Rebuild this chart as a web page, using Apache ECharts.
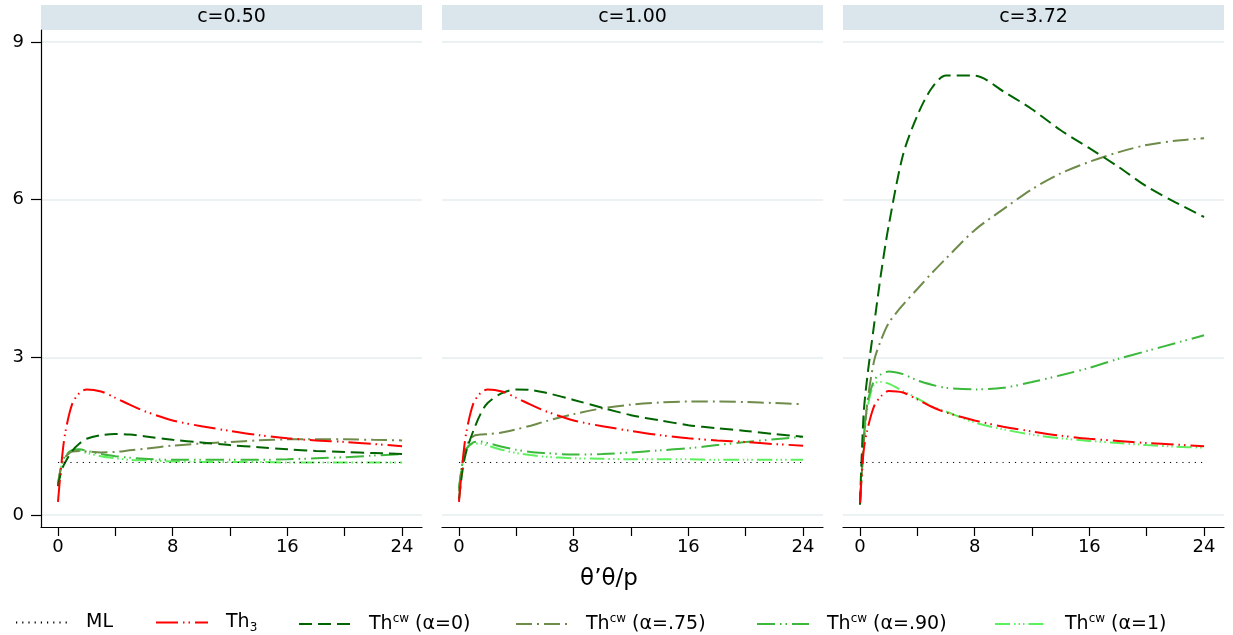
<!DOCTYPE html>
<html>
<head>
<meta charset="utf-8">
<script src="https://cdn.jsdelivr.net/npm/echarts@6/dist/echarts.min.js"></script>
<style>
  html, body { margin: 0; padding: 0; background: #fff; }
  #chart { width: 1233px; height: 635px; }
</style>
</head>
<body>
<div id="chart"></div>
<script>
  // sample points on the theta'theta/p axis
  const xs = [0, 0.25, 0.5, 1, 1.5, 2, 3, 4, 5, 6, 8, 10, 12, 14, 16, 18, 20, 22, 24];

  const panelLabels = ['c=0.50', 'c=1.00', 'c=3.72'];
  const seriesNames = ['ML', 'Th3', 'Thcw (α=0)', 'Thcw (α=.75)', 'Thcw (α=.90)', 'Thcw (α=1)'];
  const xTicks = [0, 4, 8, 12, 16, 20, 24];
  const xLabels = [0, 8, 16, 24];
  const yTicks = [0, 3, 6, 9];

  const ml = [1, 1, 1, 1, 1, 1, 1, 1, 1, 1, 1, 1, 1, 1, 1, 1, 1, 1, 1];

  // c = 0.50
  const p1Th3 = [0.25, 1.0, 1.55, 2.12, 2.32, 2.39, 2.35, 2.23, 2.10, 1.98, 1.80, 1.69, 1.60, 1.52, 1.46, 1.42, 1.39, 1.35, 1.31];
  const p1Cw0 = [0.55, 0.85, 1.0, 1.22, 1.36, 1.45, 1.52, 1.54, 1.53, 1.50, 1.43, 1.38, 1.33, 1.29, 1.25, 1.22, 1.20, 1.18, 1.16];
  const p1Cw75 = [0.6, 0.95, 1.1, 1.21, 1.22, 1.21, 1.19, 1.20, 1.23, 1.26, 1.32, 1.36, 1.39, 1.42, 1.44, 1.44, 1.44, 1.43, 1.42];
  const p1Cw90 = [0.55, 0.95, 1.12, 1.24, 1.25, 1.22, 1.16, 1.12, 1.09, 1.07, 1.05, 1.05, 1.05, 1.05, 1.06, 1.08, 1.10, 1.13, 1.16];
  const p1Cw1 = [0.55, 0.95, 1.12, 1.22, 1.22, 1.18, 1.12, 1.08, 1.05, 1.04, 1.02, 1.01, 1.01, 1.01, 1.0, 1.0, 1.0, 1.0, 1.0];

  // c = 1.00
  const p2Th3 = [0.25, 1.0, 1.55, 2.12, 2.32, 2.39, 2.35, 2.23, 2.10, 1.98, 1.80, 1.69, 1.60, 1.52, 1.46, 1.42, 1.39, 1.35, 1.32];
  const p2Cw0 = [0.3, 0.85, 1.2, 1.6, 1.92, 2.13, 2.32, 2.39, 2.38, 2.33, 2.19, 2.04, 1.90, 1.80, 1.71, 1.65, 1.60, 1.54, 1.49];
  const p2Cw75 = [0.45, 1.0, 1.3, 1.50, 1.53, 1.54, 1.57, 1.63, 1.70, 1.78, 1.92, 2.03, 2.10, 2.14, 2.16, 2.16, 2.15, 2.13, 2.11];
  const p2Cw90 = [0.5, 1.0, 1.25, 1.38, 1.40, 1.37, 1.30, 1.24, 1.20, 1.18, 1.15, 1.16, 1.19, 1.23, 1.27, 1.33, 1.39, 1.44, 1.49];
  const p2Cw1 = [0.5, 1.0, 1.25, 1.36, 1.36, 1.32, 1.24, 1.18, 1.14, 1.11, 1.08, 1.07, 1.06, 1.06, 1.06, 1.05, 1.05, 1.05, 1.05];

  // c = 3.72
  const p3Th3 = [0.23, 1.2, 1.6, 2.08, 2.27, 2.36, 2.33, 2.20, 2.06, 1.95, 1.80, 1.68, 1.59, 1.51, 1.45, 1.41, 1.37, 1.34, 1.31];
  const p3Cw0 = [0.2, 1.9, 2.6, 3.65, 4.65, 5.5, 6.85, 7.6, 8.12, 8.36, 8.36, 8.06, 7.72, 7.32, 6.98, 6.63, 6.25, 5.95, 5.67];
  const p3Cw75 = [0.2, 1.3, 2.1, 2.95, 3.35, 3.65, 4.0, 4.3, 4.6, 4.88, 5.42, 5.82, 6.2, 6.5, 6.72, 6.9, 7.04, 7.12, 7.17];
  const p3Cw90 = [0.2, 1.4, 2.1, 2.57, 2.68, 2.73, 2.68, 2.56, 2.48, 2.42, 2.39, 2.42, 2.53, 2.66, 2.8, 2.97, 3.12, 3.27, 3.42];
  const p3Cw1 = [0.2, 1.3, 2.0, 2.5, 2.53, 2.5, 2.36, 2.22, 2.07, 1.97, 1.76, 1.63, 1.53, 1.46, 1.41, 1.37, 1.33, 1.30, 1.28];

  const panels = [
    [ml, p1Th3, p1Cw0, p1Cw75, p1Cw90, p1Cw1],
    [ml, p2Th3, p2Cw0, p2Cw75, p2Cw90, p2Cw1],
    [ml, p3Th3, p3Cw0, p3Cw75, p3Cw90, p3Cw1]
  ];

  const lineLooks = [
    { color: '#000000', width: 1, type: [1.2, 5] },
    { color: '#ff0000', width: 2, type: [22, 5, 1.5, 4, 1.5, 5] },
    { color: '#006400', width: 2, type: [13, 6] },
    { color: '#6e8b4a', width: 2, type: [16, 5, 2, 5] },
    { color: '#3cb83c', width: 2, type: [18, 5, 1.5, 4, 1.5, 5] },
    { color: '#5cf05c', width: 2, type: [15, 4, 1.5, 3, 1.5, 3, 1.5, 4] }
  ];

  // left edge of each legend key, as in the picture
  const legendLefts = [10, 150, 293, 510, 751, 989];

  const font = "'DejaVu Sans', 'Liberation Sans', Arial, sans-serif";
  const panelLeft = 41, panelStep = 401, panelWidth = 381;

  let myChart = echarts.init(document.getElementById('chart'));

  let grids = [], xAxes = [], yAxes = [], series = [], graphics = [];
  panels.forEach(function (arrs, i) {
    let left = panelLeft + panelStep * i;
    grids.push({ left: left, top: 30, width: panelWidth, height: 497 });
    xAxes.push({
      gridIndex: i, type: 'value', min: -1.183, max: 25.39,
      axisLine: { show: true, onZero: false, lineStyle: { color: '#000', width: 1.2 } },
      axisTick: { show: true, customValues: xTicks, length: 9, lineStyle: { color: '#000', width: 1.2 } },
      axisLabel: { customValues: xLabels, fontSize: 18, color: '#000', margin: 11, fontFamily: font },
      splitLine: { show: false }
    });
    yAxes.push({
      gridIndex: i, type: 'value', min: -0.228, max: 9.228,
      axisLine: { show: i === 0, onZero: false, lineStyle: { color: '#000', width: 1.2 } },
      axisTick: { show: i === 0, customValues: yTicks, length: 10, lineStyle: { color: '#000', width: 1.2 } },
      axisLabel: { show: i === 0, customValues: yTicks, fontSize: 18, color: '#000', margin: 17, fontFamily: font },
      splitLine: { show: true, lineStyle: { color: '#e6eef0', width: 1.5 } }
    });
    arrs.forEach(function (arr, s) {
      series.push({
        name: seriesNames[s],
        type: 'line',
        xAxisIndex: i,
        yAxisIndex: i,
        symbol: 'none',
        smooth: s === 0 ? false : 0.3,
        z: 10 - s,
        lineStyle: lineLooks[s],
        itemStyle: { color: lineLooks[s].color },
        data: xs.map(function (x, k) { return [x, arr[k]]; })
      });
    });
    graphics.push({
      type: 'rect', left: left, top: 5,
      shape: { width: panelWidth, height: 25 },
      style: { fill: '#dae6ec' }
    });
    graphics.push({
      type: 'text', x: left + panelWidth / 2, y: 17.5,
      style: { text: panelLabels[i], font: '19px ' + font, fill: '#000', textAlign: 'center', textVerticalAlign: 'middle' }
    });
  });

  graphics.push({
    type: 'text', x: 609, y: 579,
    style: { text: 'θ’θ/p', font: '23px ' + font, fill: '#000', textAlign: 'center', textVerticalAlign: 'middle' }
  });

  // one legend per key so each sits where it does in the picture
  let legends = seriesNames.map(function (name, s) {
    return {
      data: [name],
      left: legendLefts[s],
      top: 608,
      itemWidth: 52,
      itemHeight: 14,
      itemStyle: { opacity: 0 },
      formatter: function (n) {
        if (n === 'ML') return '{p|ML}';
        if (n === 'Th3') return '{p|Th}{sub|3}';
        return '{p|Th}{sup|cw}{t|' + n.slice(4) + '}';
      },
      textStyle: {
        color: '#000', fontSize: 19, fontFamily: font,
        rich: {
          p: { fontSize: 19, padding: [0, 0, 0, 13], lineHeight: 22, verticalAlign: 'middle' },
          t: { fontSize: 19, lineHeight: 22, verticalAlign: 'middle' },
          sup: { fontSize: 12, lineHeight: 12, verticalAlign: 'top' },
          sub: { fontSize: 12, lineHeight: 12, verticalAlign: 'bottom' }
        }
      }
    };
  });

  let option = {
    animation: false,
    backgroundColor: '#fff',
    textStyle: { fontFamily: font },
    grid: grids,
    xAxis: xAxes,
    yAxis: yAxes,
    series: series,
    graphic: graphics,
    legend: legends
  };

  myChart.setOption(option);
  window.addEventListener('resize', () => { myChart.resize() });
</script>
</body>
</html>
